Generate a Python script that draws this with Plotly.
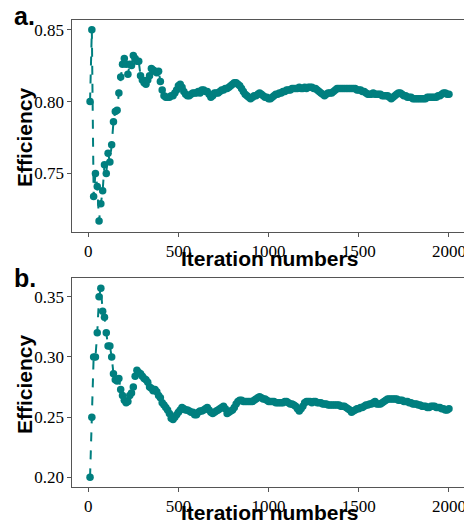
import plotly.graph_objects as go

iterations = list(range(10, 2001, 10))

eff_a = [
    0.800, 0.850, 0.734, 0.750, 0.741, 0.717, 0.729, 0.738, 0.756, 0.750,
    0.764, 0.758, 0.770, 0.786, 0.793, 0.794, 0.806, 0.817, 0.826, 0.830,
    0.826, 0.819, 0.826, 0.825, 0.832, 0.830, 0.828, 0.828, 0.818, 0.815,
    0.813, 0.812, 0.815, 0.818, 0.823, 0.822, 0.821, 0.820, 0.821, 0.814,
    0.808, 0.804, 0.803, 0.803, 0.803, 0.804, 0.804, 0.806, 0.808, 0.811,
    0.812, 0.810, 0.807, 0.805, 0.804, 0.804, 0.805, 0.806, 0.806, 0.806,
    0.807, 0.806, 0.808, 0.808, 0.807, 0.807, 0.805, 0.803, 0.804, 0.806,
    0.806, 0.806, 0.807, 0.808, 0.808, 0.809, 0.809, 0.810, 0.811, 0.812,
    0.813, 0.813, 0.812, 0.811, 0.809, 0.807, 0.805, 0.804, 0.803, 0.802,
    0.803, 0.804, 0.804, 0.805, 0.806, 0.805, 0.804, 0.803, 0.803, 0.802,
    0.802, 0.803, 0.804, 0.805, 0.805, 0.806, 0.806, 0.807, 0.807, 0.808,
    0.808, 0.808, 0.809, 0.809, 0.809, 0.809, 0.810, 0.809, 0.809, 0.810,
    0.809, 0.810, 0.810, 0.810, 0.809, 0.809, 0.808, 0.807, 0.806, 0.805,
    0.804, 0.805, 0.806, 0.806, 0.806, 0.807, 0.808, 0.809, 0.809, 0.809,
    0.809, 0.809, 0.809, 0.809, 0.809, 0.809, 0.809, 0.809, 0.808, 0.808,
    0.808, 0.807, 0.807, 0.806, 0.805, 0.805, 0.805, 0.806, 0.805, 0.805,
    0.805, 0.805, 0.804, 0.804, 0.804, 0.804, 0.803, 0.802, 0.803, 0.804,
    0.805, 0.806, 0.806, 0.805, 0.804, 0.804, 0.803, 0.803, 0.803, 0.802,
    0.802, 0.802, 0.802, 0.802, 0.802, 0.802, 0.802, 0.803, 0.803, 0.803,
    0.803, 0.803, 0.803, 0.804, 0.804, 0.805, 0.806, 0.806, 0.805, 0.805,
]

eff_b = [
    0.200, 0.250, 0.300, 0.300, 0.320, 0.350, 0.357, 0.338, 0.333, 0.320,
    0.309, 0.309, 0.300, 0.286, 0.281, 0.280, 0.282, 0.273, 0.268, 0.264,
    0.262, 0.263, 0.268, 0.270, 0.275, 0.284, 0.289, 0.287, 0.286, 0.284,
    0.282, 0.281, 0.279, 0.275, 0.274, 0.272, 0.273, 0.271, 0.268, 0.266,
    0.262, 0.260, 0.258, 0.256, 0.253, 0.249, 0.248, 0.250, 0.252, 0.254,
    0.256, 0.258, 0.257, 0.256, 0.256, 0.255, 0.254, 0.254, 0.252, 0.252,
    0.254, 0.255, 0.255, 0.256, 0.257, 0.258, 0.256, 0.254, 0.253, 0.254,
    0.255, 0.256, 0.257, 0.258, 0.259, 0.257, 0.253, 0.254, 0.255, 0.256,
    0.258, 0.261, 0.263, 0.264, 0.264, 0.263, 0.263, 0.263, 0.263, 0.263,
    0.263, 0.264, 0.265, 0.266, 0.267, 0.266, 0.265, 0.265, 0.264, 0.263,
    0.263, 0.263, 0.263, 0.262, 0.262, 0.262, 0.262, 0.262, 0.263, 0.263,
    0.262, 0.261, 0.261, 0.260, 0.259, 0.257, 0.255, 0.257, 0.259, 0.262,
    0.263, 0.263, 0.263, 0.262, 0.263, 0.263, 0.262, 0.262, 0.262, 0.261,
    0.261, 0.261, 0.260, 0.260, 0.260, 0.260, 0.260, 0.260, 0.260, 0.259,
    0.259, 0.259, 0.258, 0.257, 0.256, 0.254, 0.255, 0.256, 0.257, 0.257,
    0.258, 0.258, 0.259, 0.260, 0.260, 0.261, 0.261, 0.262, 0.263, 0.261,
    0.261, 0.261, 0.262, 0.263, 0.264, 0.265, 0.265, 0.265, 0.265, 0.265,
    0.265, 0.264, 0.264, 0.264, 0.263, 0.263, 0.263, 0.262, 0.262, 0.261,
    0.261, 0.261, 0.260, 0.260, 0.259, 0.259, 0.259, 0.258, 0.258, 0.259,
    0.259, 0.259, 0.258, 0.258, 0.258, 0.257, 0.257, 0.256, 0.256, 0.257,
]

x_ticks = [0, 500, 1000, 1500, 2000]
y_ticks_a = [0.75, 0.80, 0.85]
y_ticks_b = [0.20, 0.25, 0.30, 0.35]
panel_labels = ["a.", "b."]
x_title = "Iteration numbers"
y_title = "Efficiency"

TEAL = "#007f7f"
FRAME = "#555555"
SERIF = "'Liberation Serif', Tinos, 'Times New Roman', Times, 'DejaVu Serif', serif"
SANS = "'Liberation Sans', Arial, sans-serif"
TICK_FONT = dict(family=SERIF, size=17, color="black")
TITLE_FONT = dict(family=SANS, size=21, color="black")
LABEL_FONT = dict(family=SANS, size=25, color="black")

# The page body has an 8px margin, so the figure is drawn 8px in from the
# window's top-left corner; size it so it fits the 472x525 window.
OFF = 8
W, H = 472 - OFF, 525 - OFF
ML, MR, MT, MB = 72 - OFF, 5, 20 - OFF, 38
PW, PH = W - ML - MR, H - MT - MB


def px_x(p):
    return (p - OFF - ML) / PW


def px_y(p):
    return (H - MB - (p - OFF)) / PH


fig = go.Figure()
for yv, ax in ((eff_a, ("x", "y")), (eff_b, ("x2", "y2"))):
    fig.add_trace(go.Scatter(
        x=iterations, y=yv, xaxis=ax[0], yaxis=ax[1], mode="lines+markers",
        line=dict(color=TEAL, width=2, dash="dash"),
        marker=dict(color=TEAL, size=7.5, line=dict(width=0)),
        showlegend=False, hoverinfo="x+y",
    ))

axis_common = dict(
    showline=True, linecolor=FRAME, linewidth=1.2, mirror=True,
    ticks="outside", ticklen=3.5, tickwidth=1, tickcolor=FRAME,
    showgrid=False, zeroline=False, tickfont=TICK_FONT, automargin=False,
)

fig.update_layout(
    width=W, height=H,
    margin=dict(l=ML, r=MR, t=MT, b=MB),
    font=dict(family=SERIF, size=17, color="black"),
    paper_bgcolor="white", plot_bgcolor="white",
    xaxis=dict(axis_common, domain=[0, 1], anchor="y", range=[-90, 2100],
               tickvals=x_ticks),
    yaxis=dict(axis_common, domain=[px_y(232), 1], anchor="x",
               range=[0.7093, 0.8567], tickvals=y_ticks_a, tickformat=".2f"),
    xaxis2=dict(axis_common, domain=[0, 1], anchor="y2", range=[-90, 2100],
                tickvals=x_ticks),
    yaxis2=dict(axis_common, domain=[0, px_y(278)], anchor="x2",
                range=[0.192, 0.3655], tickvals=y_ticks_b, tickformat=".2f"),
)

annotations = []
for cy in (258, 512):
    annotations.append(dict(text="<b>%s</b>" % x_title, xref="paper", yref="paper",
                            x=px_x(269.5), y=px_y(cy), xanchor="center", yanchor="middle",
                            showarrow=False, font=TITLE_FONT))
for cy in (137, 384):
    annotations.append(dict(text="<b>%s</b>" % y_title, xref="paper", yref="paper",
                            x=px_x(24), y=px_y(cy), xanchor="center", yanchor="middle",
                            textangle=-90, showarrow=False, font=TITLE_FONT))
for lab, cy in zip(panel_labels, (16, 278)):
    annotations.append(dict(text="<b>%s</b>" % lab, xref="paper", yref="paper",
                            x=px_x(12), y=px_y(cy), xanchor="left", yanchor="middle",
                            showarrow=False, font=LABEL_FONT))
fig.update_layout(annotations=annotations)

fig.write_html("out.html", config={"displayModeBar": False})
